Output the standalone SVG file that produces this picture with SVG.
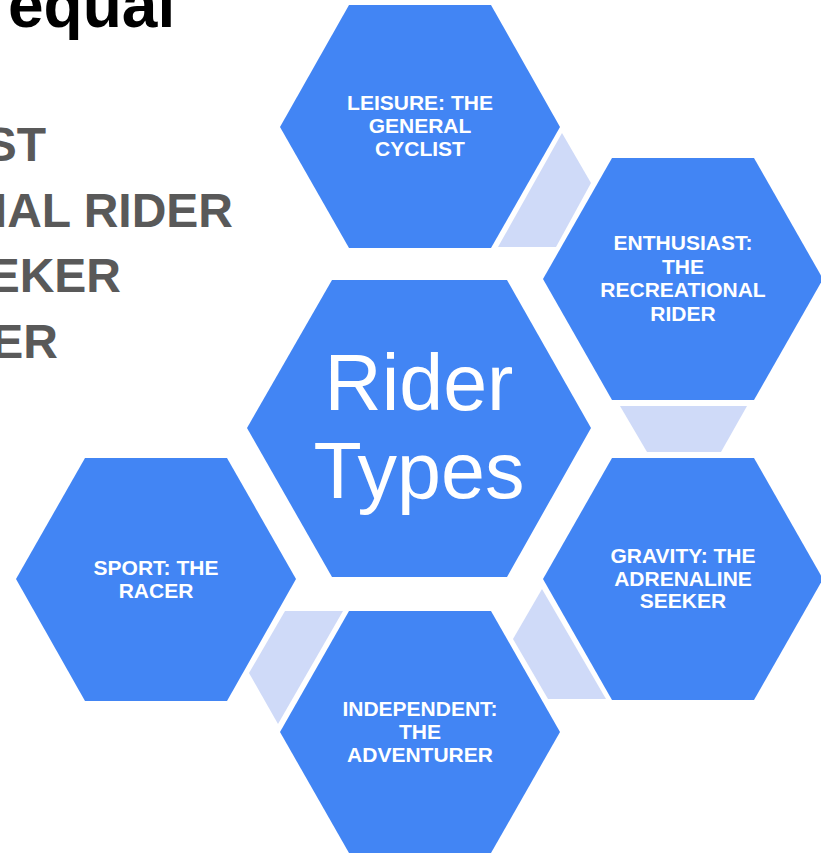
<svg xmlns="http://www.w3.org/2000/svg" width="821" height="853" viewBox="0 0 821 853">
<style>
.hex{fill:#4285F4}
.con{fill:#CFDAF8}
.lbl{font-family:"Liberation Sans",Arial,sans-serif;font-weight:bold;font-size:21px;fill:#FFFFFF;text-anchor:middle}
.ctr{font-family:"Liberation Sans",Arial,sans-serif;font-size:79px;fill:#FFFFFF;text-anchor:middle}
.side{font-family:"Liberation Sans",Arial,sans-serif;font-weight:bold;font-size:48px;fill:#595959;text-anchor:end}
.title{font-family:"Liberation Sans",Arial,sans-serif;font-weight:bold;font-size:64px;fill:#000000}
</style>
<rect width="821" height="853" fill="#FFFFFF"/>
<g id="background-text">
<text class="title" x="8" y="27">equal</text>
<text class="side" x="46" y="161">ST</text>
<text class="side" x="233" y="227">NAL RIDER</text>
<text class="side" x="121" y="292">EKER</text>
<text class="side" x="58" y="358">ER</text>
</g>
<g id="connectors">
<polygon class="con" points="562,133 591,183 556,247 498,247"/>
<polygon class="con" points="620,406 747,406 721,452 647,452"/>
<polygon class="con" points="542,589 606,699 548,699 513,639"/>
<polygon class="con" points="285,611 343,611 278,724 249,673"/>
</g>
<g id="node-center">
<polygon class="hex" points="332,280 507,280 591,428 507,577 332,577 247,428"/>
<text class="ctr" x="419" y="410">Rider</text>
<text class="ctr" x="419" y="498">Types</text>
</g>
<g id="node-leisure">
<polygon class="hex" points="349,5 491,5 560,127 491,248 349,248 280,127"/>
<text class="lbl" x="420" y="110">LEISURE: THE</text>
<text class="lbl" x="420" y="133">GENERAL</text>
<text class="lbl" x="420" y="156">CYCLIST</text>
</g>
<g id="node-enthusiast">
<polygon class="hex" points="612,158 754,158 823,279 754,400 612,400 543,279"/>
<text class="lbl" x="683" y="250">ENTHUSIAST:</text>
<text class="lbl" x="683" y="274">THE</text>
<text class="lbl" x="683" y="297">RECREATIONAL</text>
<text class="lbl" x="683" y="321">RIDER</text>
</g>
<g id="node-gravity">
<polygon class="hex" points="612,458 754,458 823,579 754,700 612,700 543,579"/>
<text class="lbl" x="683" y="563">GRAVITY: THE</text>
<text class="lbl" x="683" y="586">ADRENALINE</text>
<text class="lbl" x="683" y="608">SEEKER</text>
</g>
<g id="node-sport">
<polygon class="hex" points="85,458 227,458 296,579 227,701 85,701 16,579"/>
<text class="lbl" x="156" y="575">SPORT: THE</text>
<text class="lbl" x="156" y="598">RACER</text>
</g>
<g id="node-independent">
<polygon class="hex" points="349,611 491,611 560,732 491,853 349,853 280,732"/>
<text class="lbl" x="420" y="716">INDEPENDENT:</text>
<text class="lbl" x="420" y="739">THE</text>
<text class="lbl" x="420" y="762">ADVENTURER</text>
</g>
</svg>
